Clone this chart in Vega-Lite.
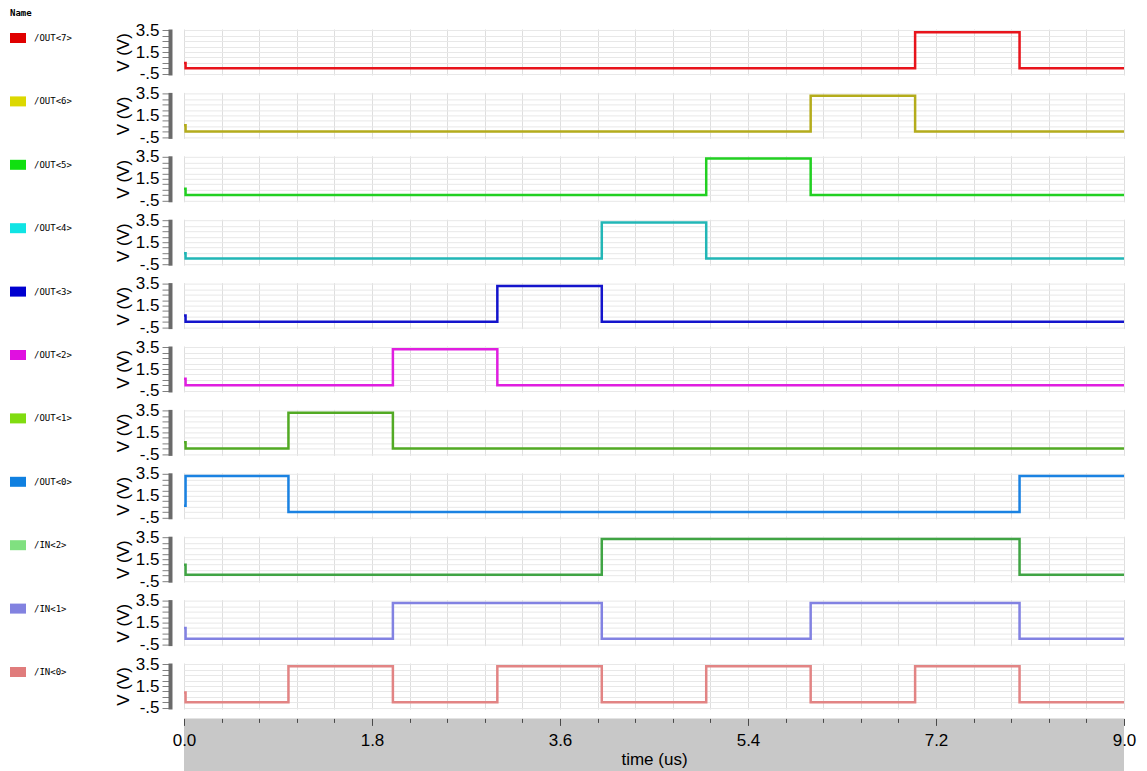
{
  "$schema": "https://vega.github.io/schema/vega-lite/v6.json",
  "background": "white",
  "padding": {"left": 10, "top": 9, "right": 5, "bottom": 0},
  "autosize": {"type": "pad"},
  "spacing": 9.4,
  "bounds": "flush",
  "data": {"values": [
    {"sig": "/OUT<7>", "t": 0, "v": 0.5}, {"sig": "/OUT<7>", "t": 0.015, "v": 0.02}, {"sig": "/OUT<7>", "t": 7, "v": 3.3}, {"sig": "/OUT<7>", "t": 8, "v": 0.02}, {"sig": "/OUT<7>", "t": 9, "v": 0.02},
    {"sig": "/OUT<6>", "t": 0, "v": 0.6}, {"sig": "/OUT<6>", "t": 0.015, "v": 0.02}, {"sig": "/OUT<6>", "t": 6, "v": 3.3}, {"sig": "/OUT<6>", "t": 7, "v": 0.02}, {"sig": "/OUT<6>", "t": 9, "v": 0.02},
    {"sig": "/OUT<5>", "t": 0, "v": 0.6}, {"sig": "/OUT<5>", "t": 0.015, "v": 0.03}, {"sig": "/OUT<5>", "t": 5, "v": 3.35}, {"sig": "/OUT<5>", "t": 6, "v": 0.03}, {"sig": "/OUT<5>", "t": 9, "v": 0.03},
    {"sig": "/OUT<4>", "t": 0, "v": 0.5}, {"sig": "/OUT<4>", "t": 0.015, "v": 0.02}, {"sig": "/OUT<4>", "t": 4, "v": 3.3}, {"sig": "/OUT<4>", "t": 5, "v": 0.02}, {"sig": "/OUT<4>", "t": 9, "v": 0.02},
    {"sig": "/OUT<3>", "t": 0, "v": 0.6}, {"sig": "/OUT<3>", "t": 0.015, "v": 0.02}, {"sig": "/OUT<3>", "t": 3, "v": 3.3}, {"sig": "/OUT<3>", "t": 4, "v": 0.02}, {"sig": "/OUT<3>", "t": 9, "v": 0.02},
    {"sig": "/OUT<2>", "t": 0, "v": 0.6}, {"sig": "/OUT<2>", "t": 0.015, "v": 0.02}, {"sig": "/OUT<2>", "t": 2, "v": 3.3}, {"sig": "/OUT<2>", "t": 3, "v": 0.02}, {"sig": "/OUT<2>", "t": 9, "v": 0.02},
    {"sig": "/OUT<1>", "t": 0, "v": 0.6}, {"sig": "/OUT<1>", "t": 0.015, "v": 0.02}, {"sig": "/OUT<1>", "t": 1, "v": 3.3}, {"sig": "/OUT<1>", "t": 2, "v": 0.02}, {"sig": "/OUT<1>", "t": 9, "v": 0.02},
    {"sig": "/OUT<0>", "t": 0, "v": 0.6}, {"sig": "/OUT<0>", "t": 0.015, "v": 3.3}, {"sig": "/OUT<0>", "t": 1, "v": 0.02}, {"sig": "/OUT<0>", "t": 8, "v": 3.3}, {"sig": "/OUT<0>", "t": 9, "v": 3.3},
    {"sig": "/IN<2>", "t": 0, "v": 1.0}, {"sig": "/IN<2>", "t": 0.015, "v": 0.08}, {"sig": "/IN<2>", "t": 4, "v": 3.35}, {"sig": "/IN<2>", "t": 8, "v": 0.08}, {"sig": "/IN<2>", "t": 9, "v": 0.08},
    {"sig": "/IN<1>", "t": 0, "v": 1.0}, {"sig": "/IN<1>", "t": 0.015, "v": 0.02}, {"sig": "/IN<1>", "t": 2, "v": 3.3}, {"sig": "/IN<1>", "t": 4, "v": 0.02}, {"sig": "/IN<1>", "t": 6, "v": 3.3}, {"sig": "/IN<1>", "t": 8, "v": 0.02}, {"sig": "/IN<1>", "t": 9, "v": 0.02},
    {"sig": "/IN<0>", "t": 0, "v": 0.9}, {"sig": "/IN<0>", "t": 0.015, "v": 0.02}, {"sig": "/IN<0>", "t": 1, "v": 3.3}, {"sig": "/IN<0>", "t": 2, "v": 0.02}, {"sig": "/IN<0>", "t": 3, "v": 3.3}, {"sig": "/IN<0>", "t": 4, "v": 0.02}, {"sig": "/IN<0>", "t": 5, "v": 3.3}, {"sig": "/IN<0>", "t": 6, "v": 0.02}, {"sig": "/IN<0>", "t": 7, "v": 3.3}, {"sig": "/IN<0>", "t": 8, "v": 0.02}, {"sig": "/IN<0>", "t": 9, "v": 0.02}
  ]},
  "vconcat": [
    {"width": 940, "height": 54, "transform": [{"filter": "datum.sig === '/OUT<7>'"}],
     "mark": {"type": "line", "strokeWidth": 2.5, "interpolate": "step-after"},
     "encoding": {
       "x": {"field": "t", "type": "quantitative", "scale": {"domain": [0, 9], "nice": false, "zero": false}, "axis": {"orient": "top", "grid": true, "gridColor": "#dedede", "values": [0,0.36,0.72,1.08,1.44,1.8,2.16,2.52,2.88,3.24,3.6,3.96,4.32,4.68,5.04,5.4,5.76,6.12,6.48,6.84,7.2,7.56,7.92,8.28,8.64,9], "labels": false, "ticks": false, "domain": false, "title": null}},
       "y": {"field": "v", "type": "quantitative", "scale": {"domain": [-0.6, 3.6], "range": [54, 8], "nice": false, "zero": false}, "axis": {"values": [-0.5,0,0.5,1,1.5,2,2.5,3,3.5], "labelExpr": "datum.value == 3.5 ? '3.5' : datum.value == 1.5 ? '1.5' : datum.value == -0.5 ? '-.5' : ''", "title": "V (V)", "titleFont": "Liberation Sans", "titleFontSize": 17, "titleFontWeight": "normal", "titleColor": "black", "titlePadding": 3, "labelFont": "Liberation Sans", "labelFontSize": 17, "labelColor": "black", "labelPadding": 3, "labelOverlap": false, "tickSize": 8, "tickColor": "#808080", "domainColor": "#6a6a6a", "domainWidth": 4, "offset": 14, "grid": true, "gridColor": "#e8e8e8"}},
       "color": {"field": "sig", "type": "nominal", "scale": {"domain": ["/OUT<7>"], "range": ["#e8141c"]}, "legend": {"orient": "none", "legendX": -174, "legendY": -12, "title": "Name", "titleFont": "DejaVu Sans Mono", "titleFontSize": 9, "titleFontWeight": "bold", "titleColor": "black", "titlePadding": 12, "symbolType": "M-1,-0.625H1V0.625H-1Z", "symbolSize": 256, "symbolStrokeWidth": 0, "labelFont": "DejaVu Sans Mono", "labelFontSize": 9, "labelColor": "black", "labelOffset": 8, "padding": 0, "zindex": 1, "encode": {"symbols": {"update": {"fill": {"value": "#e00000"}, "stroke": {"value": "transparent"}, "strokeWidth": {"value": 0}, "opacity": {"value": 1}}}}}}
     }},
    {"width": 940, "height": 54, "transform": [{"filter": "datum.sig === '/OUT<6>'"}],
     "mark": {"type": "line", "strokeWidth": 2.5, "interpolate": "step-after"},
     "encoding": {
       "x": {"field": "t", "type": "quantitative", "scale": {"domain": [0, 9], "nice": false, "zero": false}, "axis": {"orient": "top", "grid": true, "gridColor": "#dedede", "values": [0,0.36,0.72,1.08,1.44,1.8,2.16,2.52,2.88,3.24,3.6,3.96,4.32,4.68,5.04,5.4,5.76,6.12,6.48,6.84,7.2,7.56,7.92,8.28,8.64,9], "labels": false, "ticks": false, "domain": false, "title": null}},
       "y": {"field": "v", "type": "quantitative", "scale": {"domain": [-0.6, 3.6], "range": [54, 8], "nice": false, "zero": false}, "axis": {"values": [-0.5,0,0.5,1,1.5,2,2.5,3,3.5], "labelExpr": "datum.value == 3.5 ? '3.5' : datum.value == 1.5 ? '1.5' : datum.value == -0.5 ? '-.5' : ''", "title": "V (V)", "titleFont": "Liberation Sans", "titleFontSize": 17, "titleFontWeight": "normal", "titleColor": "black", "titlePadding": 3, "labelFont": "Liberation Sans", "labelFontSize": 17, "labelColor": "black", "labelPadding": 3, "labelOverlap": false, "tickSize": 8, "tickColor": "#808080", "domainColor": "#6a6a6a", "domainWidth": 4, "offset": 14, "grid": true, "gridColor": "#e8e8e8"}},
       "color": {"field": "sig", "type": "nominal", "scale": {"domain": ["/OUT<6>"], "range": ["#b4ac1c"]}, "legend": {"orient": "none", "legendX": -174, "legendY": 9, "title": null, "symbolType": "M-1,-0.625H1V0.625H-1Z", "symbolSize": 256, "symbolStrokeWidth": 0, "labelFont": "DejaVu Sans Mono", "labelFontSize": 9, "labelColor": "black", "labelOffset": 8, "padding": 0, "encode": {"symbols": {"update": {"fill": {"value": "#dcd800"}, "stroke": {"value": "transparent"}, "strokeWidth": {"value": 0}, "opacity": {"value": 1}}}}}}
     }},
    {"width": 940, "height": 54, "transform": [{"filter": "datum.sig === '/OUT<5>'"}],
     "mark": {"type": "line", "strokeWidth": 2.5, "interpolate": "step-after"},
     "encoding": {
       "x": {"field": "t", "type": "quantitative", "scale": {"domain": [0, 9], "nice": false, "zero": false}, "axis": {"orient": "top", "grid": true, "gridColor": "#dedede", "values": [0,0.36,0.72,1.08,1.44,1.8,2.16,2.52,2.88,3.24,3.6,3.96,4.32,4.68,5.04,5.4,5.76,6.12,6.48,6.84,7.2,7.56,7.92,8.28,8.64,9], "labels": false, "ticks": false, "domain": false, "title": null}},
       "y": {"field": "v", "type": "quantitative", "scale": {"domain": [-0.6, 3.6], "range": [54, 8], "nice": false, "zero": false}, "axis": {"values": [-0.5,0,0.5,1,1.5,2,2.5,3,3.5], "labelExpr": "datum.value == 3.5 ? '3.5' : datum.value == 1.5 ? '1.5' : datum.value == -0.5 ? '-.5' : ''", "title": "V (V)", "titleFont": "Liberation Sans", "titleFontSize": 17, "titleFontWeight": "normal", "titleColor": "black", "titlePadding": 3, "labelFont": "Liberation Sans", "labelFontSize": 17, "labelColor": "black", "labelPadding": 3, "labelOverlap": false, "tickSize": 8, "tickColor": "#808080", "domainColor": "#6a6a6a", "domainWidth": 4, "offset": 14, "grid": true, "gridColor": "#e8e8e8"}},
       "color": {"field": "sig", "type": "nominal", "scale": {"domain": ["/OUT<5>"], "range": ["#22d022"]}, "legend": {"orient": "none", "legendX": -174, "legendY": 9, "title": null, "symbolType": "M-1,-0.625H1V0.625H-1Z", "symbolSize": 256, "symbolStrokeWidth": 0, "labelFont": "DejaVu Sans Mono", "labelFontSize": 9, "labelColor": "black", "labelOffset": 8, "padding": 0, "encode": {"symbols": {"update": {"fill": {"value": "#10e010"}, "stroke": {"value": "transparent"}, "strokeWidth": {"value": 0}, "opacity": {"value": 1}}}}}}
     }},
    {"width": 940, "height": 54, "transform": [{"filter": "datum.sig === '/OUT<4>'"}],
     "mark": {"type": "line", "strokeWidth": 2.5, "interpolate": "step-after"},
     "encoding": {
       "x": {"field": "t", "type": "quantitative", "scale": {"domain": [0, 9], "nice": false, "zero": false}, "axis": {"orient": "top", "grid": true, "gridColor": "#dedede", "values": [0,0.36,0.72,1.08,1.44,1.8,2.16,2.52,2.88,3.24,3.6,3.96,4.32,4.68,5.04,5.4,5.76,6.12,6.48,6.84,7.2,7.56,7.92,8.28,8.64,9], "labels": false, "ticks": false, "domain": false, "title": null}},
       "y": {"field": "v", "type": "quantitative", "scale": {"domain": [-0.6, 3.6], "range": [54, 8], "nice": false, "zero": false}, "axis": {"values": [-0.5,0,0.5,1,1.5,2,2.5,3,3.5], "labelExpr": "datum.value == 3.5 ? '3.5' : datum.value == 1.5 ? '1.5' : datum.value == -0.5 ? '-.5' : ''", "title": "V (V)", "titleFont": "Liberation Sans", "titleFontSize": 17, "titleFontWeight": "normal", "titleColor": "black", "titlePadding": 3, "labelFont": "Liberation Sans", "labelFontSize": 17, "labelColor": "black", "labelPadding": 3, "labelOverlap": false, "tickSize": 8, "tickColor": "#808080", "domainColor": "#6a6a6a", "domainWidth": 4, "offset": 14, "grid": true, "gridColor": "#e8e8e8"}},
       "color": {"field": "sig", "type": "nominal", "scale": {"domain": ["/OUT<4>"], "range": ["#22b6b6"]}, "legend": {"orient": "none", "legendX": -174, "legendY": 9, "title": null, "symbolType": "M-1,-0.625H1V0.625H-1Z", "symbolSize": 256, "symbolStrokeWidth": 0, "labelFont": "DejaVu Sans Mono", "labelFontSize": 9, "labelColor": "black", "labelOffset": 8, "padding": 0, "encode": {"symbols": {"update": {"fill": {"value": "#10e4e4"}, "stroke": {"value": "transparent"}, "strokeWidth": {"value": 0}, "opacity": {"value": 1}}}}}}
     }},
    {"width": 940, "height": 54, "transform": [{"filter": "datum.sig === '/OUT<3>'"}],
     "mark": {"type": "line", "strokeWidth": 2.5, "interpolate": "step-after"},
     "encoding": {
       "x": {"field": "t", "type": "quantitative", "scale": {"domain": [0, 9], "nice": false, "zero": false}, "axis": {"orient": "top", "grid": true, "gridColor": "#dedede", "values": [0,0.36,0.72,1.08,1.44,1.8,2.16,2.52,2.88,3.24,3.6,3.96,4.32,4.68,5.04,5.4,5.76,6.12,6.48,6.84,7.2,7.56,7.92,8.28,8.64,9], "labels": false, "ticks": false, "domain": false, "title": null}},
       "y": {"field": "v", "type": "quantitative", "scale": {"domain": [-0.6, 3.6], "range": [54, 8], "nice": false, "zero": false}, "axis": {"values": [-0.5,0,0.5,1,1.5,2,2.5,3,3.5], "labelExpr": "datum.value == 3.5 ? '3.5' : datum.value == 1.5 ? '1.5' : datum.value == -0.5 ? '-.5' : ''", "title": "V (V)", "titleFont": "Liberation Sans", "titleFontSize": 17, "titleFontWeight": "normal", "titleColor": "black", "titlePadding": 3, "labelFont": "Liberation Sans", "labelFontSize": 17, "labelColor": "black", "labelPadding": 3, "labelOverlap": false, "tickSize": 8, "tickColor": "#808080", "domainColor": "#6a6a6a", "domainWidth": 4, "offset": 14, "grid": true, "gridColor": "#e8e8e8"}},
       "color": {"field": "sig", "type": "nominal", "scale": {"domain": ["/OUT<3>"], "range": ["#1414cc"]}, "legend": {"orient": "none", "legendX": -174, "legendY": 9, "title": null, "symbolType": "M-1,-0.625H1V0.625H-1Z", "symbolSize": 256, "symbolStrokeWidth": 0, "labelFont": "DejaVu Sans Mono", "labelFontSize": 9, "labelColor": "black", "labelOffset": 8, "padding": 0, "encode": {"symbols": {"update": {"fill": {"value": "#0000d0"}, "stroke": {"value": "transparent"}, "strokeWidth": {"value": 0}, "opacity": {"value": 1}}}}}}
     }},
    {"width": 940, "height": 54, "transform": [{"filter": "datum.sig === '/OUT<2>'"}],
     "mark": {"type": "line", "strokeWidth": 2.5, "interpolate": "step-after"},
     "encoding": {
       "x": {"field": "t", "type": "quantitative", "scale": {"domain": [0, 9], "nice": false, "zero": false}, "axis": {"orient": "top", "grid": true, "gridColor": "#dedede", "values": [0,0.36,0.72,1.08,1.44,1.8,2.16,2.52,2.88,3.24,3.6,3.96,4.32,4.68,5.04,5.4,5.76,6.12,6.48,6.84,7.2,7.56,7.92,8.28,8.64,9], "labels": false, "ticks": false, "domain": false, "title": null}},
       "y": {"field": "v", "type": "quantitative", "scale": {"domain": [-0.6, 3.6], "range": [54, 8], "nice": false, "zero": false}, "axis": {"values": [-0.5,0,0.5,1,1.5,2,2.5,3,3.5], "labelExpr": "datum.value == 3.5 ? '3.5' : datum.value == 1.5 ? '1.5' : datum.value == -0.5 ? '-.5' : ''", "title": "V (V)", "titleFont": "Liberation Sans", "titleFontSize": 17, "titleFontWeight": "normal", "titleColor": "black", "titlePadding": 3, "labelFont": "Liberation Sans", "labelFontSize": 17, "labelColor": "black", "labelPadding": 3, "labelOverlap": false, "tickSize": 8, "tickColor": "#808080", "domainColor": "#6a6a6a", "domainWidth": 4, "offset": 14, "grid": true, "gridColor": "#e8e8e8"}},
       "color": {"field": "sig", "type": "nominal", "scale": {"domain": ["/OUT<2>"], "range": ["#e01ee0"]}, "legend": {"orient": "none", "legendX": -174, "legendY": 9, "title": null, "symbolType": "M-1,-0.625H1V0.625H-1Z", "symbolSize": 256, "symbolStrokeWidth": 0, "labelFont": "DejaVu Sans Mono", "labelFontSize": 9, "labelColor": "black", "labelOffset": 8, "padding": 0, "encode": {"symbols": {"update": {"fill": {"value": "#e010e0"}, "stroke": {"value": "transparent"}, "strokeWidth": {"value": 0}, "opacity": {"value": 1}}}}}}
     }},
    {"width": 940, "height": 54, "transform": [{"filter": "datum.sig === '/OUT<1>'"}],
     "mark": {"type": "line", "strokeWidth": 2.5, "interpolate": "step-after"},
     "encoding": {
       "x": {"field": "t", "type": "quantitative", "scale": {"domain": [0, 9], "nice": false, "zero": false}, "axis": {"orient": "top", "grid": true, "gridColor": "#dedede", "values": [0,0.36,0.72,1.08,1.44,1.8,2.16,2.52,2.88,3.24,3.6,3.96,4.32,4.68,5.04,5.4,5.76,6.12,6.48,6.84,7.2,7.56,7.92,8.28,8.64,9], "labels": false, "ticks": false, "domain": false, "title": null}},
       "y": {"field": "v", "type": "quantitative", "scale": {"domain": [-0.6, 3.6], "range": [54, 8], "nice": false, "zero": false}, "axis": {"values": [-0.5,0,0.5,1,1.5,2,2.5,3,3.5], "labelExpr": "datum.value == 3.5 ? '3.5' : datum.value == 1.5 ? '1.5' : datum.value == -0.5 ? '-.5' : ''", "title": "V (V)", "titleFont": "Liberation Sans", "titleFontSize": 17, "titleFontWeight": "normal", "titleColor": "black", "titlePadding": 3, "labelFont": "Liberation Sans", "labelFontSize": 17, "labelColor": "black", "labelPadding": 3, "labelOverlap": false, "tickSize": 8, "tickColor": "#808080", "domainColor": "#6a6a6a", "domainWidth": 4, "offset": 14, "grid": true, "gridColor": "#e8e8e8"}},
       "color": {"field": "sig", "type": "nominal", "scale": {"domain": ["/OUT<1>"], "range": ["#52aa24"]}, "legend": {"orient": "none", "legendX": -174, "legendY": 9, "title": null, "symbolType": "M-1,-0.625H1V0.625H-1Z", "symbolSize": 256, "symbolStrokeWidth": 0, "labelFont": "DejaVu Sans Mono", "labelFontSize": 9, "labelColor": "black", "labelOffset": 8, "padding": 0, "encode": {"symbols": {"update": {"fill": {"value": "#80dc10"}, "stroke": {"value": "transparent"}, "strokeWidth": {"value": 0}, "opacity": {"value": 1}}}}}}
     }},
    {"width": 940, "height": 54, "transform": [{"filter": "datum.sig === '/OUT<0>'"}],
     "mark": {"type": "line", "strokeWidth": 2.5, "interpolate": "step-after"},
     "encoding": {
       "x": {"field": "t", "type": "quantitative", "scale": {"domain": [0, 9], "nice": false, "zero": false}, "axis": {"orient": "top", "grid": true, "gridColor": "#dedede", "values": [0,0.36,0.72,1.08,1.44,1.8,2.16,2.52,2.88,3.24,3.6,3.96,4.32,4.68,5.04,5.4,5.76,6.12,6.48,6.84,7.2,7.56,7.92,8.28,8.64,9], "labels": false, "ticks": false, "domain": false, "title": null}},
       "y": {"field": "v", "type": "quantitative", "scale": {"domain": [-0.6, 3.6], "range": [54, 8], "nice": false, "zero": false}, "axis": {"values": [-0.5,0,0.5,1,1.5,2,2.5,3,3.5], "labelExpr": "datum.value == 3.5 ? '3.5' : datum.value == 1.5 ? '1.5' : datum.value == -0.5 ? '-.5' : ''", "title": "V (V)", "titleFont": "Liberation Sans", "titleFontSize": 17, "titleFontWeight": "normal", "titleColor": "black", "titlePadding": 3, "labelFont": "Liberation Sans", "labelFontSize": 17, "labelColor": "black", "labelPadding": 3, "labelOverlap": false, "tickSize": 8, "tickColor": "#808080", "domainColor": "#6a6a6a", "domainWidth": 4, "offset": 14, "grid": true, "gridColor": "#e8e8e8"}},
       "color": {"field": "sig", "type": "nominal", "scale": {"domain": ["/OUT<0>"], "range": ["#1a82e2"]}, "legend": {"orient": "none", "legendX": -174, "legendY": 9, "title": null, "symbolType": "M-1,-0.625H1V0.625H-1Z", "symbolSize": 256, "symbolStrokeWidth": 0, "labelFont": "DejaVu Sans Mono", "labelFontSize": 9, "labelColor": "black", "labelOffset": 8, "padding": 0, "encode": {"symbols": {"update": {"fill": {"value": "#1080e0"}, "stroke": {"value": "transparent"}, "strokeWidth": {"value": 0}, "opacity": {"value": 1}}}}}}
     }},
    {"width": 940, "height": 54, "transform": [{"filter": "datum.sig === '/IN<2>'"}],
     "mark": {"type": "line", "strokeWidth": 2.5, "interpolate": "step-after"},
     "encoding": {
       "x": {"field": "t", "type": "quantitative", "scale": {"domain": [0, 9], "nice": false, "zero": false}, "axis": {"orient": "top", "grid": true, "gridColor": "#dedede", "values": [0,0.36,0.72,1.08,1.44,1.8,2.16,2.52,2.88,3.24,3.6,3.96,4.32,4.68,5.04,5.4,5.76,6.12,6.48,6.84,7.2,7.56,7.92,8.28,8.64,9], "labels": false, "ticks": false, "domain": false, "title": null}},
       "y": {"field": "v", "type": "quantitative", "scale": {"domain": [-0.6, 3.6], "range": [54, 8], "nice": false, "zero": false}, "axis": {"values": [-0.5,0,0.5,1,1.5,2,2.5,3,3.5], "labelExpr": "datum.value == 3.5 ? '3.5' : datum.value == 1.5 ? '1.5' : datum.value == -0.5 ? '-.5' : ''", "title": "V (V)", "titleFont": "Liberation Sans", "titleFontSize": 17, "titleFontWeight": "normal", "titleColor": "black", "titlePadding": 3, "labelFont": "Liberation Sans", "labelFontSize": 17, "labelColor": "black", "labelPadding": 3, "labelOverlap": false, "tickSize": 8, "tickColor": "#808080", "domainColor": "#6a6a6a", "domainWidth": 4, "offset": 14, "grid": true, "gridColor": "#e8e8e8"}},
       "color": {"field": "sig", "type": "nominal", "scale": {"domain": ["/IN<2>"], "range": ["#40a444"]}, "legend": {"orient": "none", "legendX": -174, "legendY": 9, "title": null, "symbolType": "M-1,-0.625H1V0.625H-1Z", "symbolSize": 256, "symbolStrokeWidth": 0, "labelFont": "DejaVu Sans Mono", "labelFontSize": 9, "labelColor": "black", "labelOffset": 8, "padding": 0, "encode": {"symbols": {"update": {"fill": {"value": "#80e080"}, "stroke": {"value": "transparent"}, "strokeWidth": {"value": 0}, "opacity": {"value": 1}}}}}}
     }},
    {"width": 940, "height": 54, "transform": [{"filter": "datum.sig === '/IN<1>'"}],
     "mark": {"type": "line", "strokeWidth": 2.5, "interpolate": "step-after"},
     "encoding": {
       "x": {"field": "t", "type": "quantitative", "scale": {"domain": [0, 9], "nice": false, "zero": false}, "axis": {"orient": "top", "grid": true, "gridColor": "#dedede", "values": [0,0.36,0.72,1.08,1.44,1.8,2.16,2.52,2.88,3.24,3.6,3.96,4.32,4.68,5.04,5.4,5.76,6.12,6.48,6.84,7.2,7.56,7.92,8.28,8.64,9], "labels": false, "ticks": false, "domain": false, "title": null}},
       "y": {"field": "v", "type": "quantitative", "scale": {"domain": [-0.6, 3.6], "range": [54, 8], "nice": false, "zero": false}, "axis": {"values": [-0.5,0,0.5,1,1.5,2,2.5,3,3.5], "labelExpr": "datum.value == 3.5 ? '3.5' : datum.value == 1.5 ? '1.5' : datum.value == -0.5 ? '-.5' : ''", "title": "V (V)", "titleFont": "Liberation Sans", "titleFontSize": 17, "titleFontWeight": "normal", "titleColor": "black", "titlePadding": 3, "labelFont": "Liberation Sans", "labelFontSize": 17, "labelColor": "black", "labelPadding": 3, "labelOverlap": false, "tickSize": 8, "tickColor": "#808080", "domainColor": "#6a6a6a", "domainWidth": 4, "offset": 14, "grid": true, "gridColor": "#e8e8e8"}},
       "color": {"field": "sig", "type": "nominal", "scale": {"domain": ["/IN<1>"], "range": ["#8282e2"]}, "legend": {"orient": "none", "legendX": -174, "legendY": 9, "title": null, "symbolType": "M-1,-0.625H1V0.625H-1Z", "symbolSize": 256, "symbolStrokeWidth": 0, "labelFont": "DejaVu Sans Mono", "labelFontSize": 9, "labelColor": "black", "labelOffset": 8, "padding": 0, "encode": {"symbols": {"update": {"fill": {"value": "#8282e0"}, "stroke": {"value": "transparent"}, "strokeWidth": {"value": 0}, "opacity": {"value": 1}}}}}}
     }},
    {"width": 940, "height": 54, "transform": [{"filter": "datum.sig === '/IN<0>'"}],
     "mark": {"type": "line", "strokeWidth": 2.5, "interpolate": "step-after"},
     "encoding": {
       "x": {"field": "t", "type": "quantitative", "scale": {"domain": [0, 9], "nice": false, "zero": false}, "axis": {"orient": "top", "grid": true, "gridColor": "#dedede", "values": [0,0.36,0.72,1.08,1.44,1.8,2.16,2.52,2.88,3.24,3.6,3.96,4.32,4.68,5.04,5.4,5.76,6.12,6.48,6.84,7.2,7.56,7.92,8.28,8.64,9], "labels": false, "ticks": false, "domain": false, "title": null}},
       "y": {"field": "v", "type": "quantitative", "scale": {"domain": [-0.6, 3.6], "range": [54, 8], "nice": false, "zero": false}, "axis": {"values": [-0.5,0,0.5,1,1.5,2,2.5,3,3.5], "labelExpr": "datum.value == 3.5 ? '3.5' : datum.value == 1.5 ? '1.5' : datum.value == -0.5 ? '-.5' : ''", "title": "V (V)", "titleFont": "Liberation Sans", "titleFontSize": 17, "titleFontWeight": "normal", "titleColor": "black", "titlePadding": 3, "labelFont": "Liberation Sans", "labelFontSize": 17, "labelColor": "black", "labelPadding": 3, "labelOverlap": false, "tickSize": 8, "tickColor": "#808080", "domainColor": "#6a6a6a", "domainWidth": 4, "offset": 14, "grid": true, "gridColor": "#e8e8e8"}},
       "color": {"field": "sig", "type": "nominal", "scale": {"domain": ["/IN<0>"], "range": ["#e28484"]}, "legend": {"orient": "none", "legendX": -174, "legendY": 9, "title": null, "symbolType": "M-1,-0.625H1V0.625H-1Z", "symbolSize": 256, "symbolStrokeWidth": 0, "labelFont": "DejaVu Sans Mono", "labelFontSize": 9, "labelColor": "black", "labelOffset": 8, "padding": 0, "encode": {"symbols": {"update": {"fill": {"value": "#e07c7c"}, "stroke": {"value": "transparent"}, "strokeWidth": {"value": 0}, "opacity": {"value": 1}}}}}}
     }},
    {"width": 940, "height": 53,
     "data": {"values": [{"start": 0, "end": 9}]},
     "mark": {"type": "rect", "color": "#c8c8c8"},
     "encoding": {
       "x": {"field": "start", "type": "quantitative", "scale": {"domain": [0, 9], "nice": false, "zero": false}, "axis": {"orient": "bottom", "offset": -53, "zindex": 1, "values": [0,0.36,0.72,1.08,1.44,1.8,2.16,2.52,2.88,3.24,3.6,3.96,4.32,4.68,5.04,5.4,5.76,6.12,6.48,6.84,7.2,7.56,7.92,8.28,8.64,9], "labelExpr": "abs(datum.value/1.8 - round(datum.value/1.8)) < 0.001 ? format(datum.value, '.1f') : ''", "labelFlush": false, "labelOverlap": false, "labelFont": "Liberation Sans", "labelFontSize": 17, "labelColor": "black", "labelPadding": 7, "tickColor": "#4a4a4a", "tickSize": {"condition": {"test": "abs(datum.value/1.8 - round(datum.value/1.8)) < 0.001", "value": 7}, "value": 4}, "domain": false, "grid": false, "title": "time (us)", "titleFont": "Liberation Sans", "titleFontSize": 17, "titleFontWeight": "normal", "titleColor": "black", "titlePadding": 3}},
       "x2": {"field": "end"}
     }}
  ],
  "resolve": {"scale": {"color": "independent", "y": "independent", "x": "independent"}, "legend": {"color": "independent"}},
  "config": {"view": {"stroke": null}, "font": "Liberation Sans"}
}
